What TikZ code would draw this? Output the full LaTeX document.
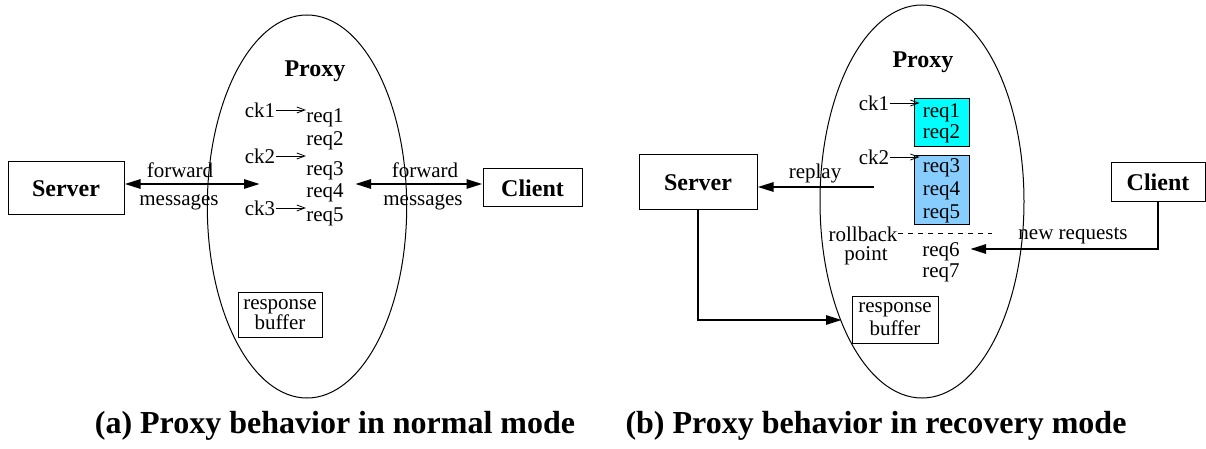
\documentclass[tikz,border=0pt]{standalone}
\usepackage{fontspec}
\setmainfont{Liberation Serif}
\usetikzlibrary{arrows.meta}
\definecolor{reqcyan}{HTML}{00FFFF}
\definecolor{reqblue}{HTML}{87CEFF}

\begin{document}
\begin{tikzpicture}[x=0.5pt,y=-0.5pt,
  txt/.style={inner sep=0pt,font=\fontsize{10.5}{11}\selectfont},
  host/.style={draw,line width=0.5pt,inner sep=0pt,font=\fontsize{12}{14}\selectfont\bfseries},
  title/.style={inner sep=0pt,font=\fontsize{12}{14}\selectfont\bfseries},
  caption/.style={inner sep=0pt,font=\fontsize{16}{18}\selectfont\bfseries},
  bufbox/.style={draw,line width=0.5pt,inner sep=0pt,align=center},
  grpbox/.style={draw,line width=0.5pt,inner sep=0pt,align=center,minimum width=27.5pt},
  flow/.style={line width=1.35pt,>={Triangle[length=8pt,width=4.5pt]}},
  ckarrow/.style={line width=0.4pt,-{Straight Barb[length=4pt,width=3pt]}},
  proxy/.style={line width=0.5pt}]
\useasboundingbox (0,0) rectangle (1206,449);

% (a) normal mode
\draw[proxy] (307,206.5) ellipse [x radius=49.85pt,y radius=95.75pt];
\node[host,minimum width=58pt,minimum height=26.5pt] (srvA) at (66,188.5) {Server};
\node[host,minimum width=49.5pt,minimum height=19pt] (cliA) at (532.5,188) {Client};
\node[title] (proxyA) at (315,71) {Proxy};
\node[txt] (ck1A) at (260,110) {ck1};
\node[txt] (ck2A) at (260,156) {ck2};
\node[txt] (ck3A) at (260,208) {ck3};
\node[txt] (req1A) at (325,118) {req1};
\node[txt] (req2A) at (325,141) {req2};
\node[txt] (req3A) at (325,171) {req3};
\node[txt] (req4A) at (325,193) {req4};
\node[txt] (req5A) at (325,217) {req5};
\draw[ckarrow] (ck1A.east) -- (ck1A.east -| req1A.west);
\draw[ckarrow] (ck2A.east) -- (ck2A.east -| req2A.west);
\draw[ckarrow] (ck3A.east) -- (ck3A.east -| req5A.west);
\coordinate (inA) at (260,184);
\coordinate (outA) at (355,184);
\draw[flow,<->] (srvA.east |- inA) -- (inA);
\draw[flow,<->] (outA) -- (outA -| cliA.west);
\node[txt] (fwd1A) at (180,170) {forward};
\node[txt] (msg1A) at (179,202) {messages};
\node[txt] (fwd2A) at (425,170) {forward};
\node[txt] (msg2A) at (423,202) {messages};
\node[bufbox,font=\fontsize{10.5}{10}\selectfont,minimum width=42pt,minimum height=22.5pt]
  (bufA) at (280,314.5) {response\\buffer};
\node[caption] (capA) at (335,426) {(a) Proxy behavior in normal mode};

% (b) recovery mode
\draw[proxy] (922,201.5) ellipse [x radius=51pt,y radius=98.25pt];
\node[host,minimum width=59pt,minimum height=27.5pt] (srvB) at (698,182.5) {Server};
\node[host,minimum width=47pt,minimum height=19.5pt] (cliB) at (1158,182.5) {Client};
\node[title] (proxyB) at (923,62) {Proxy};
\node[txt] (ck1B) at (874,103) {ck1};
\node[txt] (ck2B) at (874,157) {ck2};
\node[grpbox,fill=reqcyan,minimum height=24pt,font=\fontsize{10.5}{10.5}\selectfont]
  (grp1B) at (941.5,123) {req1\\req2};
\node[grpbox,fill=reqblue,minimum height=34.5pt,font=\fontsize{10.5}{11.5}\selectfont]
  (grp2B) at (941.5,190.5) {req3\\req4\\req5};
\draw[ckarrow] (ck1B.east) -- ([xshift=3pt]ck1B.east -| grp1B.west);
\draw[ckarrow] (ck2B.east) -- ([xshift=3pt]ck2B.east -| grp2B.west);
\node[txt] (rbkB) at (863,234) {rollback};
\node[txt] (pntB) at (866,256) {point};
\coordinate (rbkendB) at (992,233);
\draw[line width=0.4pt,dash pattern=on 2.5pt off 2.5pt] (rbkendB -| rbkB.east) -- (rbkendB);
\node[txt] (req6B) at (941,252) {req6};
\node[txt] (req7B) at (941,273) {req7};
\coordinate (rplB) at (874,187);
\draw[flow,->] (rplB) -- (rplB -| srvB.east);
\node[txt] (rpltxtB) at (815,173) {replay};
\coordinate (newB) at (970,249);
\draw[flow,->] (cliB.south) |- (newB);
\node[txt] (newtxtB) at (1073,236) {new requests};
\node[bufbox,font=\fontsize{10.5}{11.5}\selectfont,minimum width=43pt,minimum height=23.5pt]
  (bufB) at (895,319.5) {response\\buffer};
\coordinate (bufinB) at (842,320);
\draw[flow,->] (srvB.south) |- (bufinB);
\node[caption] (capB) at (876,426) {(b) Proxy behavior in recovery mode};
\end{tikzpicture}
\end{document}
